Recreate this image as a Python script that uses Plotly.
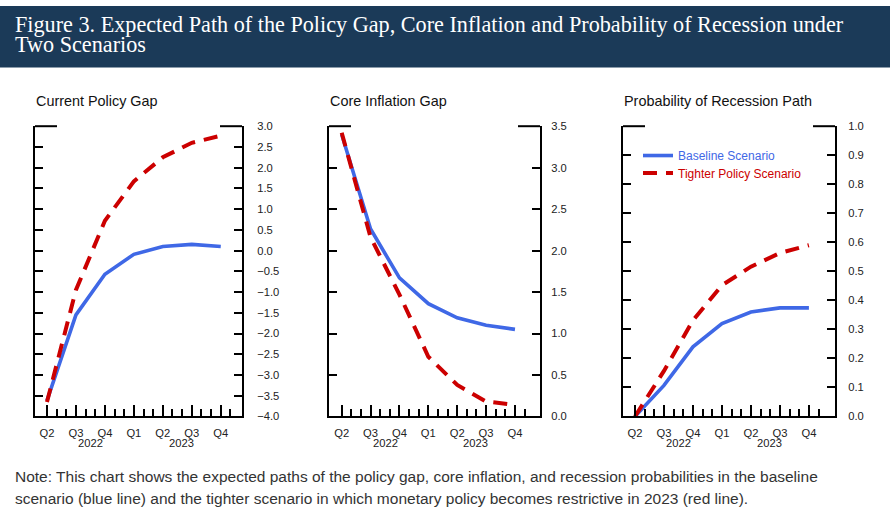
import plotly.graph_objects as go

W, H = 890, 528

# ---------------- data ----------------
quarters = ["Q2", "Q3", "Q4", "Q1", "Q2", "Q3", "Q4"]
years = ["2022", "2023"]
panel_titles = ["Current Policy Gap", "Core Inflation Gap", "Probability of Recession Path"]
series_names = ["Baseline Scenario", "Tighter Policy Scenario"]
title_lines = [
    "Figure 3. Expected Path of the Policy Gap, Core Inflation and Probability of Recession under",
    "Two Scenarios",
]
note_lines = [
    "Note: This chart shows the expected paths of the policy gap, core inflation, and recession probabilities in the baseline",
    "scenario (blue line) and the tighter scenario in which monetary policy becomes restrictive in 2023 (red line).",
]

gap_baseline = [-3.62, -1.55, -0.57, -0.09, 0.10, 0.15, 0.10]
gap_tighter = [-3.65, -0.95, 0.72, 1.67, 2.25, 2.60, 2.77]

infl_baseline = [3.40, 2.26, 1.67, 1.36, 1.19, 1.10, 1.05]
infl_tighter = [3.42, 2.16, 1.47, 0.72, 0.38, 0.18, 0.14]

rec_baseline = [0.0, 0.107, 0.24, 0.32, 0.36, 0.374, 0.374]
rec_tighter = [0.0, 0.157, 0.331, 0.452, 0.516, 0.563, 0.59]

y_ticks = [
    [-4.0, -3.5, -3.0, -2.5, -2.0, -1.5, -1.0, -0.5, 0.0, 0.5, 1.0, 1.5, 2.0, 2.5, 3.0],
    [0.0, 0.5, 1.0, 1.5, 2.0, 2.5, 3.0, 3.5],
    [0.0, 0.1, 0.2, 0.3, 0.4, 0.5, 0.6, 0.7, 0.8, 0.9, 1.0],
]

# month index of each quarter (Q2 2022 = month 0)
months = [3 * i for i in range(len(quarters))]
minor_months = [m for m in range(0, months[-1] + 2) if m not in months]
year_pos = [4.5, 13.9]

# ---------------- style ----------------
BLUE = "#3f68e6"
RED = "#cc0000"
NAVY = "#1b3a58"
FONT = "Liberation Sans, Arial, sans-serif"
SERIF = "Georgia, Liberation Serif, serif"
TICK_SIZE = 11.2

panels_px = [(35, 242), (329, 540), (623, 835)]
x_ranges = [(-1.24, 20.2), (-1.32, 20.6), (-1.24, 20.7)]
y_standoff = [11, 7, 9]
top_px, bot_px = 123, 420

data = [
    (gap_baseline, gap_tighter),
    (infl_baseline, infl_tighter),
    (rec_baseline, rec_tighter),
]

def px(xp):
    return xp / W

def py(yp):
    return 1 - yp / H

fig = go.Figure()

for i, (base, tight) in enumerate(data):
    sx = "" if i == 0 else str(i + 1)
    xa, ya = "x" + sx, "y" + sx
    show = i == 2
    fig.add_trace(go.Scatter(
        x=months, y=base, mode="lines", xaxis=xa, yaxis=ya,
        line=dict(color=BLUE, width=3.6),
        name="<span style='color:%s'>%s</span>" % (BLUE, series_names[0]),
        showlegend=show, legend="legend", hoverinfo="x+y",
    ))
    fig.add_trace(go.Scatter(
        x=months, y=tight, mode="lines", xaxis=xa, yaxis=ya,
        line=dict(color=RED, width=4, dash="14px,9px"),
        name="<span style='color:%s'>%s</span>" % (RED, series_names[1]),
        showlegend=show, legend="legend2", hoverinfo="x+y",
    ))

shapes = []
annotations = []
layout = {}
for i in range(3):
    sx = "" if i == 0 else str(i + 1)
    x0, x1 = panels_px[i]
    yt = y_ticks[i]
    layout["xaxis" + sx] = dict(
        domain=[px(x0), px(x1)], range=list(x_ranges[i]), anchor="y" + sx,
        tickmode="array", tickvals=months, ticktext=quarters,
        ticks="inside", ticklen=11, tickwidth=2, tickcolor="black",
        showline=True, linewidth=2, linecolor="black", mirror=False,
        showgrid=False, zeroline=False, fixedrange=True,
        tickfont=dict(family=FONT, size=TICK_SIZE, color="#222"),
        ticklabelstandoff=5,
        minor=dict(tickmode="array", tickvals=minor_months, ticks="inside",
                   ticklen=7, tickwidth=2, tickcolor="black", showgrid=False),
    )
    layout["yaxis" + sx] = dict(
        domain=[py(bot_px), py(top_px)], range=[yt[0], yt[-1]], anchor="x" + sx,
        side="right", tickmode="array", tickvals=yt,
        ticktext=[("%.1f" % v).replace("-", "\u2212") for v in yt],
        ticks="inside", ticklen=8, tickwidth=2, tickcolor="black",
        showline=True, linewidth=2, linecolor="black", mirror="ticks",
        showgrid=False, zeroline=False, fixedrange=True,
        tickfont=dict(family=FONT, size=TICK_SIZE, color="#222"),
        ticklabelstandoff=y_standoff[i],
    )
    # partial top frame stubs
    for a, b in [(x0, x0 + 22), (x1 - 22, x1)]:
        shapes.append(dict(type="line", xref="paper", yref="paper",
                           x0=px(a), x1=px(b), y0=py(top_px), y1=py(top_px),
                           line=dict(color="black", width=2)))
    # panel title
    annotations.append(dict(text=panel_titles[i], xref="paper", yref="paper",
                            x=px(x0 - 1), y=py(97), xanchor="left", yanchor="middle",
                            showarrow=False, font=dict(family=FONT, size=14.4, color="#111")))
    # year labels
    for yr, xp in zip(years, year_pos):
        annotations.append(dict(text=yr, xref="x" + sx, yref="paper",
                                x=xp, y=py(447.5), xanchor="center", yanchor="middle",
                                showarrow=False, font=dict(family=FONT, size=TICK_SIZE, color="#222")))

# header band
shapes.insert(0, dict(type="rect", xref="paper", yref="paper", x0=0, x1=1,
                      y0=py(63), y1=1, fillcolor=NAVY, line=dict(width=0), layer="below"))
for txt, yc in zip(title_lines, [18.5, 39.5]):
    annotations.append(dict(
        text=txt, xref="paper", yref="paper", x=px(13), y=py(yc),
        xanchor="left", yanchor="middle", align="left", showarrow=False,
        font=dict(family=SERIF, size=22.2, color="white")))
for txt, yc in zip(note_lines, [481, 503.5]):
    annotations.append(dict(
        text=txt, xref="paper", yref="paper", x=px(13), y=py(yc),
        xanchor="left", yanchor="middle", align="left", showarrow=False,
        font=dict(family=FONT, size=15.5, color="#333")))

legend_common = dict(xanchor="left", yanchor="middle", bgcolor="rgba(0,0,0,0)",
                     font=dict(family=FONT, size=12), itemwidth=30)

fig.update_layout(
    width=W, height=H, margin=dict(l=0, r=0, t=0, b=0),
    paper_bgcolor="white", plot_bgcolor="white",
    shapes=shapes, annotations=annotations,
    showlegend=True,
    legend=dict(x=px(638), y=py(153), **legend_common),
    legend2=dict(x=px(638), y=py(171), **legend_common),
    **layout,
)

fig.write_html("out.html")
